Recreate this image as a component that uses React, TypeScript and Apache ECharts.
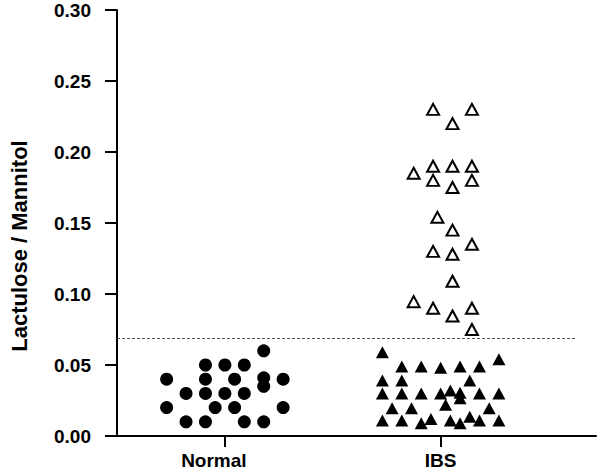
import React, { useEffect, useRef } from "react";
import * as echarts from "echarts";

const categories = ["Normal", "IBS"];
const yTicks = [0, 0.05, 0.1, 0.15, 0.2, 0.25, 0.3];
const threshold = 0.069;

// Normal group (filled circles): horizontal jitter offsets and values
const normalOffsets = [
  0.18,
  -0.09, 0, 0.09,
  -0.27, -0.09, 0.045, 0.18, 0.18, 0.27,
  -0.18, -0.09, 0, 0.09,
  -0.27, -0.045, 0.045, 0.27,
  -0.18, -0.09, 0.09, 0.18,
];
const normalValues = [
  0.06,
  0.05, 0.05, 0.05,
  0.04, 0.04, 0.04, 0.041, 0.035, 0.04,
  0.03, 0.03, 0.03, 0.03,
  0.02, 0.02, 0.02, 0.02,
  0.01, 0.01, 0.01, 0.01,
];

// IBS group, below threshold (filled triangles)
const ibsLowOffsets = [
  -0.27,
  0.27,
  -0.18, -0.09, 0, 0.09, 0.18,
  -0.27, -0.18, 0.135,
  -0.27, -0.18, -0.09, 0, 0.18, 0.27,
  0.045, 0.09, 0.09,
  0.023,
  -0.225, -0.135, 0.225,
  -0.27, -0.18, -0.09, -0.045, 0.045, 0.09, 0.135, 0.18, 0.27,
];
const ibsLowValues = [
  0.059,
  0.054,
  0.049, 0.049, 0.048, 0.049, 0.049,
  0.039, 0.039, 0.039,
  0.03, 0.03, 0.03, 0.03, 0.03, 0.03,
  0.032, 0.0305, 0.0265,
  0.022,
  0.0195, 0.0195, 0.0195,
  0.011, 0.011, 0.009, 0.012, 0.011, 0.009, 0.0135, 0.011, 0.011,
];

// IBS group, above threshold (open triangles)
const ibsHighOffsets = [
  -0.035, 0.145, 0.055,
  -0.125, -0.035, 0.055, 0.145,
  -0.035, 0.145, 0.055,
  -0.015, 0.055, 0.145, -0.035, 0.055,
  0.055,
  -0.125, -0.035, 0.145, 0.055, 0.145,
];
const ibsHighValues = [
  0.23, 0.23, 0.22,
  0.185, 0.19, 0.19, 0.19,
  0.18, 0.18, 0.175,
  0.154, 0.145, 0.135, 0.13, 0.128,
  0.109,
  0.0946, 0.09, 0.09, 0.0845, 0.075,
];

const FONT = "'Liberation Sans', Arial, sans-serif";

function pts(center: number, offs: number[], vals: number[]) {
  return vals.map((v, i) => [center + offs[i], v]);
}

export default function App() {
  const ref = useRef<HTMLDivElement>(null);
  useEffect(() => {
    if (!ref.current) return;
    const chart = echarts.init(ref.current, undefined, { renderer: "svg" });
    const catPos = [1, 2];
    const labelFont = {
      color: "#000",
      fontFamily: FONT,
      fontWeight: "bold" as const,
      fontSize: 19,
    };
    chart.setOption({
      animation: false,
      backgroundColor: "#ffffff",
      grid: { left: 110, right: 4, top: 10, bottom: 36, containLabel: false },
      xAxis: {
        type: "value",
        min: 0.5,
        max: 2.72,
        splitLine: { show: false },
        axisLine: { show: true, lineStyle: { color: "#000", width: 2 } },
        axisTick: {
          show: true,
          customValues: catPos,
          length: 11,
          lineStyle: { color: "#000", width: 2 },
        },
        axisLabel: {
          show: true,
          customValues: catPos,
          formatter: (v: number) => {
            const i = Math.round(v) - 1;
            return i === 0 ? `{l|${categories[0]}}` : `{c|${categories[i] ?? ""}}`;
          },
          ...labelFont,
          margin: 15,
          rich: {
            l: { ...labelFont, padding: [0, 22, 0, 0] },
            c: { ...labelFont },
          },
        },
      },
      yAxis: {
        type: "value",
        min: 0,
        max: 0.3,
        interval: 0.05,
        splitLine: { show: false },
        name: "Lactulose / Mannitol",
        nameLocation: "middle",
        nameGap: 87,
        nameTextStyle: {
          color: "#000",
          fontFamily: FONT,
          fontWeight: "bold",
          fontSize: 22,
          padding: [0, 46, 0, 0],
        },
        axisLine: { show: true, lineStyle: { color: "#000", width: 2 } },
        axisTick: { show: true, length: 12, lineStyle: { color: "#000", width: 2 } },
        axisLabel: {
          ...labelFont,
          margin: 26,
          formatter: (v: number) => {
            const t = yTicks.find((x) => Math.abs(x - v) < 1e-9);
            return (t ?? v).toFixed(2);
          },
        },
      },
      series: [
        {
          name: "Normal",
          type: "scatter",
          symbol: "circle",
          symbolSize: 13,
          itemStyle: { color: "#000", opacity: 1 },
          data: pts(catPos[0], normalOffsets, normalValues),
          markLine: {
            silent: true,
            symbol: "none",
            label: { show: false },
            lineStyle: { color: "#555", type: [3, 2], width: 1 },
            data: [[{ coord: [0.5, threshold] }, { coord: [2.624, threshold] }]],
          },
        },
        {
          name: "IBS low",
          type: "scatter",
          symbol: "triangle",
          symbolSize: [13, 12],
          itemStyle: { color: "#000", opacity: 1 },
          data: pts(catPos[1], ibsLowOffsets, ibsLowValues),
        },
        {
          name: "IBS high",
          type: "scatter",
          symbol: "triangle",
          symbolSize: [12, 11],
          itemStyle: { color: "#fff", borderColor: "#000", borderWidth: 2, opacity: 1 },
          data: pts(catPos[1], ibsHighOffsets, ibsHighValues),
        },
      ],
    });
    return () => chart.dispose();
  }, []);
  return (
    <div
      ref={ref}
      style={{ position: "absolute", left: 0, top: 0, width: 600, height: 472 }}
    />
  );
}
